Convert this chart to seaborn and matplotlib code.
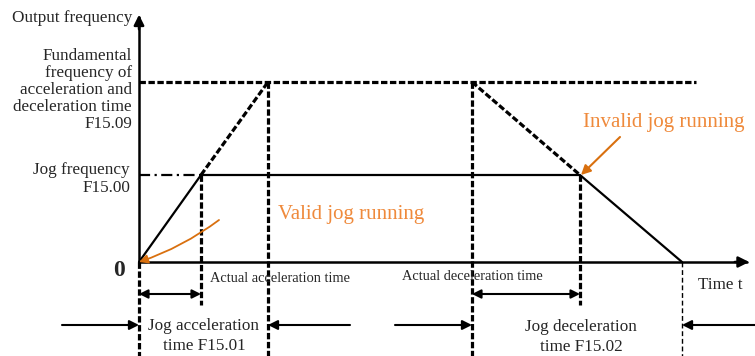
"""
Jog running: output frequency vs time (acceleration / deceleration diagram).
"""

import pandas as pd
import matplotlib
matplotlib.use("Agg")
import matplotlib.pyplot as plt
import seaborn as sns

# time marks (relative to origin)
t_jog_acc = 62       # end of actual acceleration
t_base_acc = 129     # end of jog acceleration time F15.01
t_dec_start = 333    # start of deceleration
t_jog_dec = 441      # end of actual deceleration (start of real ramp down)
t_stop = 543         # end of jog deceleration time F15.02
t_axis_end = 613

# frequency levels
f_jog = 87           # Jog frequency F15.00
f_base = 180         # Fundamental frequency F15.09
f_axis_end = 250

# running profile (solid)
profile_t = [0, t_jog_acc, t_jog_dec, t_stop]
profile_f = [0, f_jog, f_jog, 0]

ORANGE_TXT = "#ef8a3c"
ORANGE_ARR = "#d9700f"
FS = 12.3

sns.set_theme(style="white")
plt.rcParams["font.family"] = ["Liberation Serif", "DejaVu Serif"]

fig = plt.figure(figsize=(7.55, 3.56), dpi=100)
ax = fig.add_axes([0, 0, 1, 1])
ax.set_xlim(-139, 616)
ax.set_ylim(-94, 262)
ax.axis("off")

df = pd.DataFrame({"t": profile_t, "f": profile_f})
sns.lineplot(data=df, x="t", y="f", sort=False, color="black", lw=1.6, ax=ax)

dash = dict(color="black", lw=2.3, linestyle=(0, (2.0, 0.8)))
# fundamental frequency level
ax.plot([0, t_stop + 14], [f_base, f_base], **dash)
# virtual ramps toward fundamental frequency
ax.plot([t_jog_acc, t_base_acc], [f_jog, f_base], **dash)
ax.plot([t_dec_start, t_jog_dec], [f_base, f_jog], **dash)
# jog level from y axis
ax.plot([0, t_jog_acc], [f_jog, f_jog], color="black", lw=1.6, linestyle=(0, (5, 2, 1, 2)))

# vertical guides
y_bot = -94
ax.plot([0, 0], [0, y_bot], **dash)
ax.plot([t_jog_acc, t_jog_acc], [f_jog, -43], **dash)
ax.plot([t_base_acc, t_base_acc], [f_base, y_bot], **dash)
ax.plot([t_dec_start, t_dec_start], [f_base, y_bot], **dash)
ax.plot([t_jog_dec, t_jog_dec], [f_jog, -43], **dash)
ax.plot([t_stop, t_stop], [0, y_bot], color="black", lw=1.0, linestyle=(0, (3.5, 2)))

# axes with arrows
ax.plot([0, 0], [0, f_axis_end - 5], color="black", lw=1.8)
ax.annotate("", xy=(0, f_axis_end), xytext=(0, f_axis_end - 20),
            arrowprops=dict(arrowstyle="-|>", color="black", lw=1.8, mutation_scale=15))
ax.plot([0, t_axis_end - 5], [0, 0], color="black", lw=1.8)
ax.annotate("", xy=(t_axis_end, 0), xytext=(t_axis_end - 20, 0),
            arrowprops=dict(arrowstyle="-|>", color="black", lw=1.8, mutation_scale=16))

# double arrows for actual times
dbl = dict(arrowstyle="<|-|>", color="black", lw=1.5, mutation_scale=13, shrinkA=0, shrinkB=0)
ax.annotate("", xy=(0, -32), xytext=(t_jog_acc, -32), arrowprops=dbl)
ax.annotate("", xy=(t_dec_start, -32), xytext=(t_jog_dec, -32), arrowprops=dbl)

# outer arrows for jog acceleration / deceleration time
one = dict(arrowstyle="-|>", color="black", lw=1.5, mutation_scale=14, shrinkA=0, shrinkB=0)
y_o = -63
ax.annotate("", xy=(0, y_o), xytext=(-77, y_o), arrowprops=one)
ax.annotate("", xy=(t_base_acc, y_o), xytext=(t_base_acc + 82, y_o), arrowprops=one)
ax.annotate("", xy=(t_dec_start, y_o), xytext=(t_dec_start - 77, y_o), arrowprops=one)
ax.annotate("", xy=(t_stop, y_o), xytext=(t_stop + 75, y_o), arrowprops=one)

# labels
ax.text(-127, 244, "Output frequency", fontsize=FS, ha="left", va="center")
ax.text(-7, 172, "Fundamental\nfrequency of\nacceleration and\ndeceleration time\nF15.09",
        fontsize=FS, ha="right", va="center", multialignment="right", linespacing=1.1)
ax.text(-9, 83, "Jog frequency\nF15.00", fontsize=FS, ha="right", va="center",
        multialignment="right", linespacing=1.15)
ax.text(-20, -8, "0", fontsize=17, fontweight="bold", ha="center", va="center")
ax.text(71, -16, "Actual acceleration time", fontsize=10.4, ha="left", va="center")
ax.text(263, -15, "Actual deceleration time", fontsize=10.4, ha="left", va="center")
ax.text(559, -23, "Time t", fontsize=FS, ha="left", va="center")
ax.text(65, -74, "Jog acceleration\ntime F15.01", fontsize=FS, ha="center", va="center",
        linespacing=1.3)
ax.text(442, -75, "Jog deceleration\ntime F15.02", fontsize=FS, ha="center", va="center",
        linespacing=1.3)

ax.text(139, 48, "Valid jog running", fontsize=15, color=ORANGE_TXT, ha="left", va="center")
ax.text(444, 139, "Invalid jog running", fontsize=15, color=ORANGE_TXT, ha="left", va="center")

# orange pointers
ax.annotate("", xy=(0, 0), xytext=(80, 42),
            arrowprops=dict(arrowstyle="-|>", color=ORANGE_ARR, lw=1.3, mutation_scale=13,
                            shrinkA=0, shrinkB=0, connectionstyle="arc3,rad=-0.08"))
ax.annotate("", xy=(t_jog_dec + 1, f_jog), xytext=(t_jog_dec + 40, 125),
            arrowprops=dict(arrowstyle="-|>", color=ORANGE_ARR, lw=1.5, mutation_scale=14,
                            shrinkA=0, shrinkB=0))

fig.savefig("out.png", dpi=100)
plt.close(fig)
